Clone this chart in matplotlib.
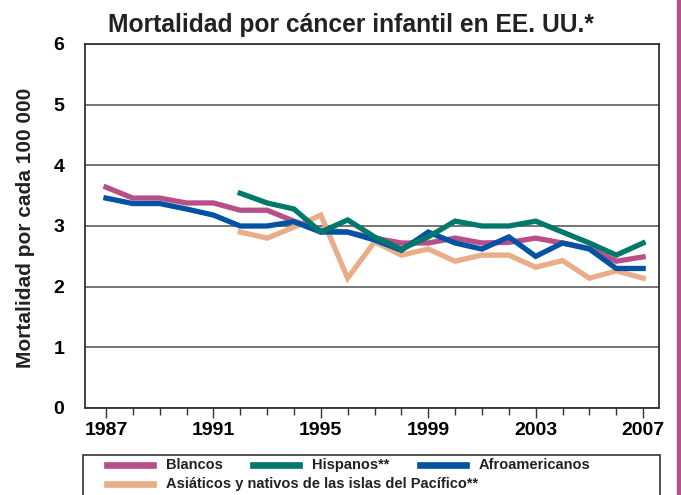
import matplotlib
matplotlib.use("Agg")
import matplotlib.pyplot as plt
from matplotlib.lines import Line2D
from matplotlib.patches import Rectangle

plt.rcParams['font.family'] = ['Liberation Sans', 'DejaVu Sans']
plt.rcParams['font.weight'] = 'bold'

years = list(range(1987, 2008))
years_late = list(range(1992, 2008))

blancos = [3.64, 3.46, 3.46, 3.38, 3.38, 3.26, 3.26, 3.08, 2.93, 2.90, 2.80,
           2.72, 2.72, 2.80, 2.72, 2.73, 2.80, 2.72, 2.63, 2.42, 2.49]
afro = [3.46, 3.37, 3.37, 3.28, 3.18, 3.00, 3.00, 3.07, 2.90, 2.90, 2.77,
        2.60, 2.90, 2.72, 2.62, 2.82, 2.50, 2.72, 2.62, 2.30, 2.30]
hispanos = [3.54, 3.38, 3.28, 2.90, 3.10, 2.82, 2.62, 2.82, 3.08, 3.00, 3.00,
            3.08, 2.90, 2.72, 2.52, 2.72]
asiaticos = [2.90, 2.80, 2.98, 3.18, 2.14, 2.74, 2.52, 2.62, 2.42, 2.52, 2.52,
             2.32, 2.43, 2.14, 2.26, 2.14]

labels = ["Blancos", "Hispanos**", "Afroamericanos",
          "Asiáticos y nativos de las islas del Pacífico**"]
colors = ["#b84f88", "#00786a", "#0053a3", "#e9ad8a"]

title = "Mortalidad por cáncer infantil en EE. UU.*"
ylabel = "Mortalidad por cada 100 000"
xticks_major = [1987, 1991, 1995, 1999, 2003, 2007]
yticks = [0, 1, 2, 3, 4, 5, 6]

W, H = 681, 495
fig = plt.figure(figsize=(W / 100, H / 100), dpi=100)


def fx(x):
    return x / W


def fy(y):
    return 1 - y / H


ax = fig.add_axes([fx(85), fy(408), fx(658.7) - fx(85), fy(44) - fy(408)])
lw = 3.8
ax.plot(years, blancos, color=colors[0], lw=lw, solid_joinstyle='miter', zorder=3)
ax.plot(years_late, asiaticos, color=colors[3], lw=lw, solid_joinstyle='miter', zorder=2)
ax.plot(years, afro, color=colors[2], lw=lw, solid_joinstyle='miter', zorder=4)
ax.plot(years_late, hispanos, color=colors[1], lw=lw, solid_joinstyle='miter', zorder=5)

ax.set_xlim(1986.22, 2007.58)
ax.set_ylim(0, 6)
ax.set_xticks(xticks_major)
ax.set_xticks(years, minor=True)
ax.set_yticks(yticks)
ax.tick_params(axis='x', which='major', length=7, width=1, color='#333333',
               labelsize=14, pad=3)
ax.tick_params(axis='x', which='minor', length=5, width=1, color='#333333')
ax.tick_params(axis='y', length=0, labelsize=14, pad=15)
for lab in ax.get_xticklabels() + ax.get_yticklabels():
    lab.set_fontweight('bold')
ax.grid(axis='y', color='#6a6a6a', lw=1.3, zorder=1)
for s in ax.spines.values():
    s.set_color('#333333')
    s.set_linewidth(1.3)

fig.text(fx(351), fy(32), title, ha='center', va='baseline',
         fontsize=17.7, fontweight='bold', color='#222222')
fig.text(fx(26), fy(228), ylabel, ha='center', va='center', rotation=90,
         fontsize=15, fontweight='bold', color='#222222')

# legend
fig.patches.append(Rectangle((fx(83), fy(500)), fx(660) - fx(83), fy(455) - fy(500),
                             transform=fig.transFigure, fill=False,
                             edgecolor='#333333', lw=1.2))
leg_items = [(107, 465, 0), (253, 465, 1), (420, 465, 2), (107, 484, 3)]
for x0, y0, i in leg_items:
    fig.lines.append(Line2D([fx(x0), fx(x0 + 46)], [fy(y0), fy(y0)],
                            transform=fig.transFigure, color=colors[i], lw=4.8))
    fig.text(fx(x0 + 59), fy(y0), labels[i], ha='left', va='center',
             fontsize=10.5, fontweight='bold', color='#222222')

# right decorative bar
fig.patches.append(Rectangle((fx(677), 0), fx(681) - fx(677), 1,
                             transform=fig.transFigure, color='#b84f88'))

fig.savefig("out.png", dpi=100)
